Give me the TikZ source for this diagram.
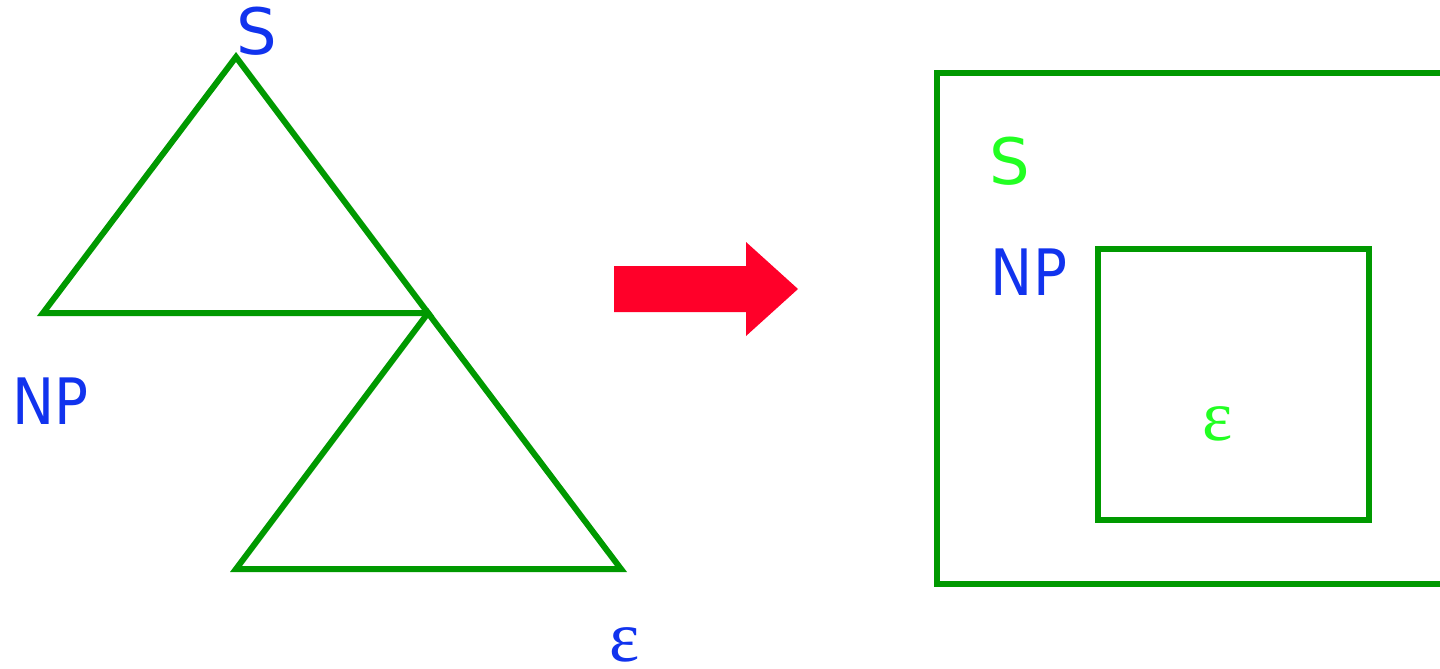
\documentclass[tikz,border=0pt]{standalone}
\usepackage{fontspec}
\setmainfont{DejaVu Sans}
\newfontfamily\epsfont{Liberation Serif}
\newfontfamily\npfont[FakeStretch=0.88]{DejaVu Sans}
\definecolor{lineGreen}{HTML}{009900}
\definecolor{labBlue}{HTML}{1133EE}
\definecolor{labGreen}{HTML}{22FF22}
\definecolor{arrRed}{HTML}{FF0029}
\tikzset{
  shapeline/.style={draw=lineGreen, line width=6pt, line join=miter},
  lab/.style={inner sep=0pt, anchor=base, font=\fontsize{64}{76}\selectfont},
  nplab/.style={inner sep=0pt, anchor=base, font=\fontsize{64}{76}\selectfont\npfont},
  epslab/.style={inner sep=0pt, anchor=base, font=\fontsize{72}{84}\selectfont\epsfont},
}
\begin{document}
\begin{tikzpicture}[x=1pt,y=-1pt]
\useasboundingbox (0,0) rectangle (1440,669);
% left triangles
\draw[shapeline] (236,57) -- (43,313) -- (428,313) -- cycle;
\draw[shapeline] (428,313) -- (236,569) -- (621,569) -- cycle;
\node[lab, text=labBlue] (sL) at (257,55) {S};
\node[nplab, text=labBlue] (npL) at (50.5,424) {NP};
\node[epslab, text=labBlue] (epsL) at (625,661) {ε};
% arrow
\fill[arrRed] (614,266) -- (746,266) -- (746,242) -- (798,289) -- (746,336) -- (746,312) -- (614,312) -- cycle;
% right boxes
\draw[shapeline] (1450,73) -- (937,73) -- (937,584) -- (1450,584);
\draw[shapeline] (1098,249) rectangle (1369,520);
\node[lab, text=labGreen] (sR) at (1010,184) {S};
\node[nplab, text=labBlue] (npR) at (1029,295) {NP};
\node[epslab, text=labGreen] (epsR) at (1218,440) {ε};
\end{tikzpicture}
\end{document}
